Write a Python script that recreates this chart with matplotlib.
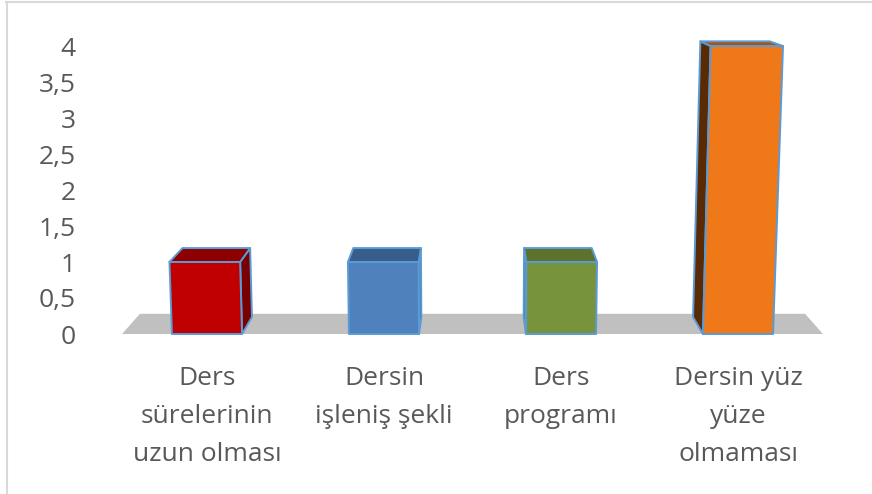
import matplotlib.pyplot as plt
from matplotlib.patches import Polygon
from matplotlib.lines import Line2D

# chart data
categories = ["Ders\nsürelerinin\nuzun olması", "Dersin\nişleniş şekli",
              "Ders\nprogramı", "Dersin yüz\nyüze\nolmaması"]
values = [1, 1, 1, 4]
y_ticks = [0, 0.5, 1, 1.5, 2, 2.5, 3, 3.5, 4]
y_tick_labels = ["0", "0,5", "1", "1,5", "2", "2,5", "3", "3,5", "4"]

front_colors = ["#C00000", "#4F81BD", "#77933C", "#EF7818"]
top_colors = ["#8C0000", "#385D8A", "#5C722D", "#A85414"]
side_colors = ["#780000", "#34587F", "#4F6228", "#5A2A05"]
edge_color = "#5B9BD5"
text_color = "#595959"

plt.rcParams['font.family'] = ['Open Sans', 'DejaVu Sans']

# fake 3d perspective settings (data units)
XC, VY = 1.5, 5.5        # vanishing point of depth lines
KEY = 0.0083             # slight keystone of vertical edges
DEPTH = 0.957            # bar depth
FLOOR_DEPTH = 0.949
HALF_W = 0.198


def project(x, y, back=False, s=DEPTH):
    xs = XC + (x - XC) * (1 + KEY * y)
    ys = y
    if back:
        xs = XC + s * (xs - XC)
        ys = VY + s * (ys - VY)
    return xs, ys


fig = plt.figure(figsize=(8.72, 4.94), dpi=100)
ax = fig.add_axes([118.5 / 872, 160 / 494, 708 / 872, 288 / 494])
ax.set_xlim(-0.5, 3.5)
ax.set_ylim(0, 4)
for sp in ax.spines.values():
    sp.set_visible(False)

# floor
fl, fr = -0.48, 3.48
floor = [project(fl, 0), project(fr, 0),
         project(fr, 0, True, FLOOR_DEPTH), project(fl, 0, True, FLOOR_DEPTH)]
ax.add_patch(Polygon(floor, closed=True, facecolor="#C0C0C0", edgecolor="none",
                     clip_on=False, zorder=1))

for i, v in enumerate(values):
    xl, xr = i - HALF_W, i + HALF_W
    front = [project(xl, 0), project(xr, 0), project(xr, v), project(xl, v)]
    top = [project(xl, v), project(xr, v), project(xr, v, True), project(xl, v, True)]
    xs = xr if i < XC else xl
    side = [project(xs, 0), project(xs, v), project(xs, v, True), project(xs, 0, True)]
    for poly, col in [(side, side_colors[i]), (top, top_colors[i]), (front, front_colors[i])]:
        ax.add_patch(Polygon(poly, closed=True, facecolor=col, edgecolor=edge_color,
                             linewidth=1.4, joinstyle='round', clip_on=False, zorder=2))

ax.set_yticks(y_ticks)
ax.set_yticklabels(y_tick_labels)
ax.set_xticks(range(len(categories)))
ax.set_xticklabels(categories, linespacing=1.68)
ax.tick_params(axis='y', length=0, pad=31, labelsize=19, labelcolor=text_color)
ax.tick_params(axis='x', length=0, pad=23, labelsize=19, labelcolor=text_color)

# page border
fig.add_artist(Line2D([6.5 / 872, 6.5 / 872], [0, 1 - 2.5 / 494],
                      transform=fig.transFigure, color="#D9D9D9", lw=1.5))
fig.add_artist(Line2D([6 / 872, 1], [1 - 2.5 / 494, 1 - 2.5 / 494],
                      transform=fig.transFigure, color="#D9D9D9", lw=1.5))

fig.savefig("out.png", dpi=100)
